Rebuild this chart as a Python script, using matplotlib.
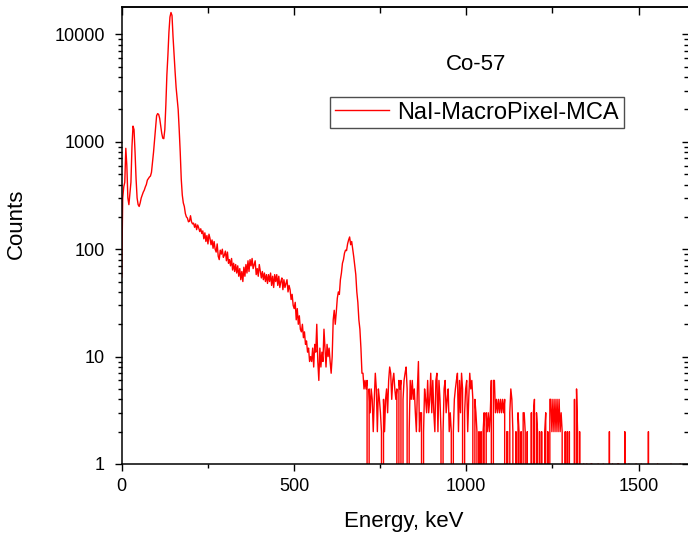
import numpy as np
import matplotlib
matplotlib.use("Agg")
import matplotlib.pyplot as plt
from matplotlib.ticker import FixedLocator, FixedFormatter, LogLocator, NullFormatter

plt.rcParams['font.family'] = ['Liberation Sans', 'DejaVu Sans']

# ---------------- data ----------------
title_text = "Co-57"
series_name = "NaI-MacroPixel-MCA"
x_label = "Energy, keV"
y_label = "Counts"
kev_per_channel = 2.98

# counts per channel (low energy region, up to ~700 keV)
counts_low = [
    55, 300, 380, 420, 870, 600, 300, 260, 330, 420,
    900, 1400, 1300, 800, 450, 300, 260, 250, 270, 300,
    320, 340, 355, 380, 400, 440, 455, 470, 480, 520,
    640, 800, 1050, 1350, 1750, 1830, 1800, 1650, 1400, 1200,
    1080, 1070, 1300, 2200, 4200, 6400, 10500, 14500, 16000, 15000,
    9500, 6500, 4500, 3200, 2500, 2000, 1300, 800, 450, 320,
    270, 250, 215, 200, 195, 180, 182, 205, 180, 172,
    175, 160, 172, 152, 168, 158, 146, 155, 140, 148,
    125, 142, 118, 134, 112, 138, 126, 110, 122, 102,
    118, 100, 94, 112, 86, 80, 98, 90, 100, 84,
    88, 96, 78, 94, 74, 80, 70, 82, 64, 74,
    62, 72, 60, 70, 56, 66, 52, 62, 50, 68,
    56, 72, 60, 78, 62, 80, 70, 82, 66, 72,
    78, 58, 66, 56, 72, 62, 54, 62, 52, 60,
    50, 58, 48, 58, 50, 60, 46, 56, 44, 58,
    50, 58, 46, 56, 44, 50, 54, 42, 52, 44,
    48, 52, 40, 46, 42, 34, 38, 30, 28, 32,
    22, 28, 20, 24, 18, 17, 20, 15, 17, 13,
    14, 11, 12, 9, 10, 9, 12, 8, 13, 11,
    20, 9, 6, 12, 8, 11, 9, 18, 12, 8,
    13, 10, 12, 9, 7, 10, 22, 27, 20, 26,
    35, 40, 38, 52, 60, 74, 80, 92, 98, 97,
    112, 122, 130, 110, 118, 100, 85, 70, 58, 40,
    32, 22, 18, 12, 7,
]

# counts per channel, ~700-1020 keV
counts_mid = [
    7, 5, 6, 5, 6, 0, 5, 3, 5, 4, 2, 4, 7, 5, 2, 5, 4, 3, 2, 0,
    4, 2, 4, 5, 3, 6, 8, 7, 4, 6, 7, 5, 4, 5, 0, 6, 5, 6, 0, 4,
    6, 7, 8, 5, 0, 2, 6, 4, 6, 4, 5, 3, 2, 5, 9, 2, 3, 3, 0, 2,
    5, 4, 3, 6, 3, 4, 7, 3, 6, 3, 2, 6, 7, 2, 6, 4, 2, 0, 2, 5,
    6, 3, 4, 5, 2, 3, 2, 0, 2, 4, 5, 6, 7, 2, 6, 3, 7, 5, 0, 3,
    5, 6, 2, 4, 7, 5,
]

# counts per channel, ~1020-1350 keV
counts_high = [
    6, 4, 0, 4, 3, 2, 0, 2, 0, 2, 0, 2, 3, 0, 3, 2, 3, 2, 3, 6,
    0, 6, 6, 3, 4, 3, 4, 3, 4, 3, 4, 3, 4, 0, 2, 2, 0, 3, 5, 4,
    2, 0, 0, 2, 0, 3, 2, 0, 2, 0, 3, 3, 2, 0, 2, 0, 0, 0, 3, 0,
    3, 4, 0, 3, 2, 0, 2, 0, 2, 0, 0, 2, 3, 0, 2, 0, 4, 4, 2, 4,
    2, 4, 2, 4, 2, 4, 2, 3, 2, 0, 0, 2, 0, 2, 0, 2, 0, 0, 0, 0,
    4, 0, 5, 2, 0, 2, 0, 0, 0, 1,
]

# counts per channel, ~1350-1660 keV
counts_tail = [
    0, 0, 1, 0, 0, 0, 1, 1, 0, 0, 0, 0, 0, 1, 0, 0, 0, 0, 1, 0,
    0, 0, 0, 0, 2, 0, 0, 1, 0, 0, 0, 0, 1, 1, 0, 0, 0, 0, 0, 2,
    0, 0, 0, 1, 0, 0, 0, 0, 0, 0, 1, 0, 0, 0, 0, 1, 0, 0, 0, 0,
    0, 0, 2, 0, 0, 0, 0, 0, 0, 0, 0, 1, 0, 0, 0, 0, 0, 0, 0, 0,
    0, 0, 0, 0, 1, 0, 0, 0, 0, 0, 0, 0, 0, 1, 0, 0, 0, 0, 0, 0,
    0, 0, 0,
]

counts = np.array(counts_low + counts_mid + counts_high + counts_tail, dtype=float)
channels = np.arange(len(counts))
energy = channels * kev_per_channel

y_ticks = [1, 10, 100, 1000, 10000]
y_tick_labels = ["1", "10", "100", "1000", "10000"]
x_ticks = [0, 500, 1000, 1500]
x_minor = [250, 750, 1250]

# ---------------- figure ----------------
W, H = 688, 541
fig = plt.figure(figsize=(W / 100, H / 100), dpi=100)
left_px, right_px, top_px, bot_px = 121.7, 689.5, 7.0, 464.0
ax = fig.add_axes([left_px / W, 1 - bot_px / H, (right_px - left_px) / W, (bot_px - top_px) / H])

ax.plot(energy, counts, color="#ff0000", lw=1.0, label=series_name)
ax.set_yscale("log", nonpositive="clip")
ax.set_xlim(0, 1648)
ax.set_ylim(1, 18000)

ax.yaxis.set_major_locator(FixedLocator(y_ticks))
ax.yaxis.set_major_formatter(FixedFormatter(y_tick_labels))
ax.yaxis.set_minor_locator(LogLocator(base=10, subs=np.arange(2, 10)))
ax.yaxis.set_minor_formatter(NullFormatter())
ax.xaxis.set_major_locator(FixedLocator(x_ticks))
ax.xaxis.set_minor_locator(FixedLocator(x_minor))

for s in ax.spines.values():
    s.set_linewidth(1.1)

ax.tick_params(which="both", labelsize=13, width=1.0)
ax.tick_params(axis="x", which="both", pad=5)
ax.tick_params(axis="y", which="both", pad=7)
ax.tick_params(which="major", length=5)
ax.tick_params(which="minor", length=3)
ax.tick_params(axis="x", which="both", bottom=True, top=False, direction="out")
ax.tick_params(axis="y", which="both", left=True, right=False, direction="out")

# inward ticks on top and right
secx = ax.secondary_xaxis("top")
secx.xaxis.set_major_locator(FixedLocator(x_ticks))
secx.xaxis.set_minor_locator(FixedLocator(x_minor))
secx.tick_params(which="both", direction="in", labeltop=False, width=1.0)
secx.tick_params(which="major", length=6)
secx.tick_params(which="minor", length=4)
secx.spines["top"].set_linewidth(1.1)

secy = ax.secondary_yaxis("right")
secy.set_yscale("log")
secy.yaxis.set_major_locator(FixedLocator(y_ticks))
secy.yaxis.set_minor_locator(LogLocator(base=10, subs=np.arange(2, 10)))
secy.tick_params(which="both", direction="in", labelright=False, width=1.0)
secy.tick_params(which="major", length=6)
secy.tick_params(which="minor", length=4)
secy.yaxis.set_minor_formatter(NullFormatter())

ax.set_xlabel(x_label, fontsize=16)
ax.set_ylabel(y_label, fontsize=16)
ax.xaxis.set_label_coords((403.3 - left_px) / (right_px - left_px), -(521.7 - bot_px) / (bot_px - top_px))
ax.yaxis.set_label_coords(-(122 - 17) / (right_px - left_px), (bot_px - 224) / (bot_px - top_px))
ax.xaxis.label.set_va("center")
ax.yaxis.label.set_va("center")

fig.text(475.7 / W, 1 - 65 / H, title_text, fontsize=16, ha="center", va="center")

leg = ax.legend(loc="upper left", bbox_to_anchor=(330 / W, 1 - 97 / H),
                bbox_transform=fig.transFigure, fontsize=17, frameon=True,
                fancybox=False, borderpad=0.2, handlelength=2.3, handletextpad=0.35,
                borderaxespad=0)
leg.get_frame().set_edgecolor("#222222")
leg.get_frame().set_linewidth(1.0)

fig.savefig("out.png", dpi=100)
